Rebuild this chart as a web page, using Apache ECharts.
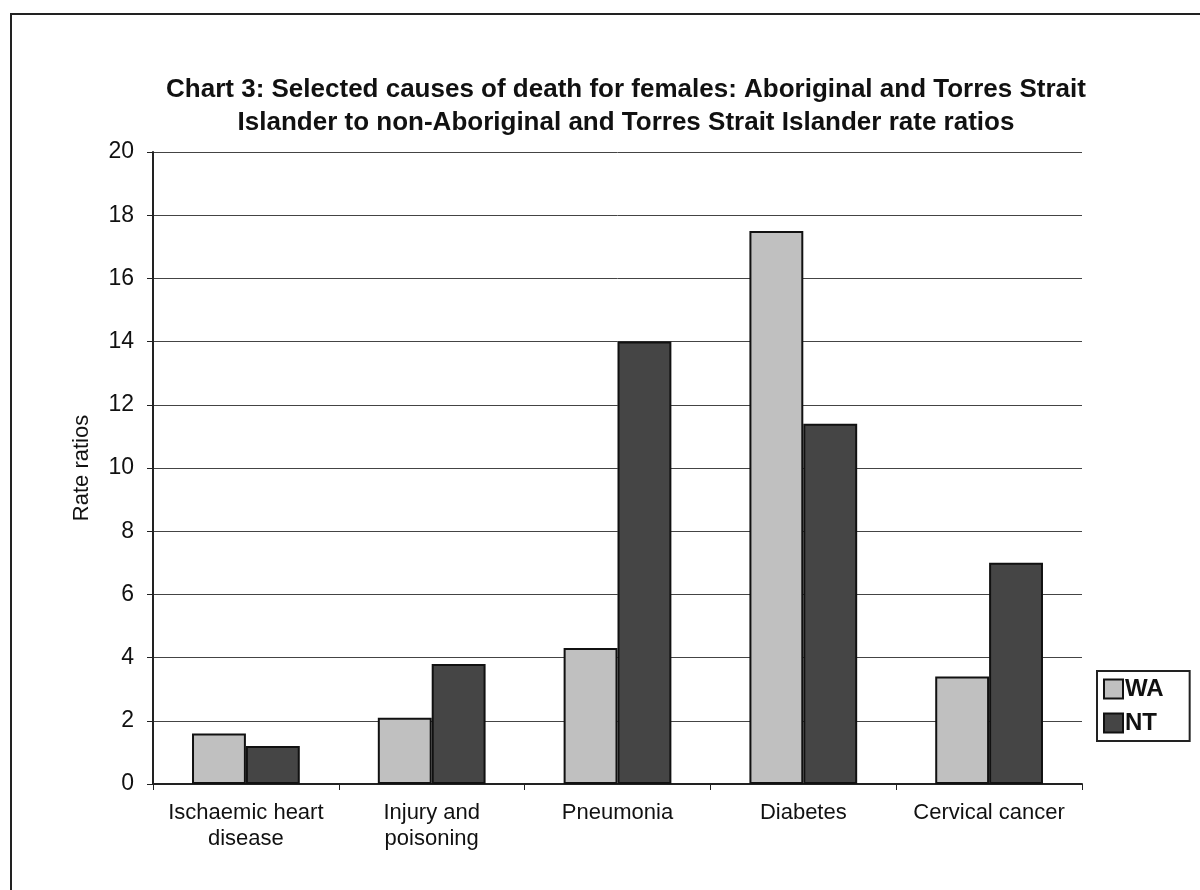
<!DOCTYPE html>
<html><head><meta charset="utf-8">
<script src="https://cdn.jsdelivr.net/npm/echarts@6/dist/echarts.min.js"></script>
<style>html,body{margin:0;padding:0;background:#fff}#c{width:1200px;height:890px}</style>
</head><body><div id="c"></div>
<script>
const categories = ['Ischaemic heart\ndisease', 'Injury and\npoisoning', 'Pneumonia', 'Diabetes', 'Cervical cancer'];
const waValues = [1.6, 2.1, 4.3, 17.5, 3.4];
const ntValues = [1.2, 3.8, 14.0, 11.4, 7.0];
const titleText = 'Chart 3: Selected causes of death for females: Aboriginal and Torres Strait\nIslander to non-Aboriginal and Torres Strait Islander rate ratios';

const chart = echarts.init(document.getElementById('c'));
const font = '"Liberation Sans", Arial, sans-serif';
chart.setOption({
  animation: false,
  textStyle: {fontFamily: font},
  title: {
    text: titleText, left: 621, top: 68, textAlign: 'center',
    textStyle: {fontSize: 26, fontWeight: 'bold', color: '#111', lineHeight: 33, fontFamily: font}
  },
  graphic: [{
    type: 'rect', shape: {x: 11, y: 14, width: 1200, height: 900},
    style: {fill: 'none', stroke: '#222', lineWidth: 2}, silent: true
  }],
  legend: {
    orient: 'vertical', left: 1097, top: 671,
    data: ['WA', 'NT'],
    icon: 'rect',
    itemWidth: 19, itemHeight: 19, itemGap: 10,
    padding: [6, 26, 6, 6],
    borderColor: '#222', borderWidth: 2, borderRadius: 0,
    textStyle: {fontSize: 24, fontWeight: 'bold', color: '#111', fontFamily: font, padding: [0, 0, 0, -3]}
  },
  grid: {left: 153, right: 118, top: 152, bottom: 106},
  xAxis: {
    type: 'category', data: categories,
    axisLine: {lineStyle: {color: '#222', width: 2}},
    axisTick: {show: true, alignWithLabel: false, length: 6, lineStyle: {color: '#222'}},
    axisLabel: {interval: 0, fontSize: 22, color: '#111', margin: 16, lineHeight: 26, fontFamily: font}
  },
  yAxis: {
    type: 'value', min: 0, max: 20, interval: 2,
    name: 'Rate ratios', nameLocation: 'middle', nameGap: 60, nameRotate: 90,
    nameTextStyle: {fontSize: 22, color: '#111', fontFamily: font},
    axisLine: {show: true, lineStyle: {color: '#222', width: 2}},
    axisTick: {show: true, length: 6, lineStyle: {color: '#222'}},
    axisLabel: {fontSize: 23, color: '#111', margin: 19, fontFamily: font},
    splitLine: {lineStyle: {color: '#444', width: 1}}
  },
  series: [
    {name: 'WA', type: 'bar', data: waValues, barGap: '0%', barCategoryGap: '42%',
     itemStyle: {color: '#c0c0c0', borderColor: '#111', borderWidth: 2}},
    {name: 'NT', type: 'bar', data: ntValues,
     itemStyle: {color: '#454545', borderColor: '#111', borderWidth: 2}}
  ]
});
</script></body></html>
